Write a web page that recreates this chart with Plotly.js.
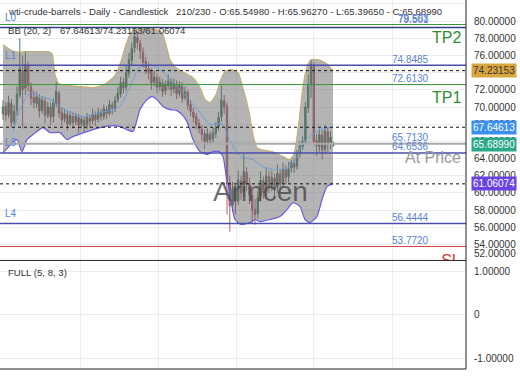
<!DOCTYPE html>
<html>
<head>
<meta charset="utf-8">
<script src="https://cdn.plot.ly/plotly-3.0.1.min.js"></script>
<style>html,body{margin:0;padding:0;background:#fff;}#chart{width:520px;height:390px;}</style>
</head>
<body>
<div id="chart"></div>
<script>
// ---- OHLC data (bar index 0..118) ----
const opens = [69.2,70.1,69.1,70.4,68.3,69.6,71.4,74.3,72.2,74.8,72.4,71.1,70.4,71.0,69.6,70.7,69.1,70.0,68.9,70.4,
71.6,69.4,68.6,69.1,68.1,68.9,68.3,68.8,68.0,68.5,67.9,68.7,68.4,69.1,68.6,69.3,68.9,69.7,69.3,70.2,
69.8,70.9,71.5,72.9,72.3,73.9,75.4,76.9,78.1,77.4,76.4,75.3,74.5,74.1,72.9,73.4,72.4,72.8,71.9,72.5,
72.9,72.1,72.7,71.6,72.4,71.1,71.7,70.3,69.4,68.9,68.1,67.4,66.9,66.1,66.8,66.3,66.9,67.7,68.9,70.7,
70.1,61.2,58.6,60.4,59.1,61.4,60.1,62.4,61.1,59.7,58.1,57.6,59.6,61.4,60.1,61.9,60.9,61.7,60.6,62.2,
61.1,62.7,61.9,62.9,63.4,63.1,64.6,65.4,66.1,69.9,72.6,74.9,66.1,65.4,66.7,65.1,67.1,65.9,65.5498];
const highs = [70.8,70.6,71.3,70.9,70.2,72.4,78.0,76.0,76.5,75.3,72.9,71.9,71.8,71.5,71.3,71.2,70.6,70.5,71.0,72.9,
71.9,69.9,69.8,69.6,69.5,69.4,69.3,69.2,69.0,68.9,69.3,69.1,69.8,69.5,69.9,69.8,70.3,70.1,70.8,70.6,
71.3,72.3,73.5,73.4,74.8,76.3,77.5,79.2,78.7,77.8,76.9,75.8,75.2,74.5,74.2,73.9,73.5,73.3,73.1,73.8,
73.4,73.3,73.1,73.0,72.9,72.4,72.0,70.8,69.9,69.3,68.6,67.9,67.3,67.5,67.2,67.6,68.2,69.4,72.5,71.4,
70.5,62.0,61.3,61.0,62.6,62.0,64.6,63.0,61.8,60.4,59.3,60.2,62.5,61.9,63.0,62.6,62.6,62.2,63.3,62.8,
63.5,63.2,63.6,64.2,64.0,65.0,66.0,66.6,70.6,73.8,75.5,75.2,66.9,67.5,67.3,67.9,67.6,67.2,65.9627];
const lows = [68.5,68.4,68.7,67.6,67.9,69.0,71.0,67.5,71.4,71.8,70.2,69.8,69.9,68.8,69.2,68.1,68.7,67.9,68.2,70.0,
68.7,67.8,68.2,67.3,67.8,67.5,67.9,67.0,67.5,67.1,67.4,67.6,68.0,67.8,68.2,68.4,68.5,68.6,69.0,69.1,
69.4,70.5,71.1,71.6,71.9,73.4,74.8,76.3,76.7,75.6,74.6,73.8,73.2,72.0,72.4,71.6,71.9,71.2,71.4,72.0,
71.3,71.6,70.9,71.2,70.5,70.8,69.7,68.9,68.2,67.4,66.9,66.1,65.1,65.6,65.7,65.9,66.4,67.2,68.3,69.2,
57.5,55.5,57.8,57.5,58.6,59.2,59.6,60.2,58.7,56.4,56.3,57.0,59.0,59.3,59.5,60.0,60.2,59.5,60.0,60.3,
60.6,61.0,61.2,62.4,62.3,62.7,64.1,65.0,65.7,69.3,71.0,65.6,64.3,64.8,63.9,64.6,64.8,65.1,65.3965];
const closes = [70.0,69.0,70.5,68.2,69.5,71.5,74.5,72.0,75.0,72.5,71.0,70.5,71.2,69.5,70.8,69.0,70.0,68.8,70.5,71.8,
69.3,68.5,69.2,68.0,69.0,68.2,68.9,67.9,68.6,67.8,68.8,68.3,69.2,68.5,69.4,68.9,69.8,69.2,70.3,69.9,
70.8,71.6,72.8,72.2,74.0,75.5,76.8,78.2,77.5,76.5,75.2,74.6,74.0,72.8,73.5,72.3,72.9,71.8,72.6,73.0,
72.0,72.8,71.5,72.5,71.0,71.8,70.2,69.5,68.8,68.0,67.5,66.8,66.0,66.9,66.2,67.0,67.6,68.8,70.8,70.0,
61.0,58.5,60.5,59.0,61.5,60.0,62.5,61.0,59.8,58.0,57.5,59.5,61.5,60.0,62.0,60.8,61.8,60.5,62.3,61.0,
62.8,61.8,62.8,63.5,63.0,64.5,65.5,66.0,70.0,72.5,75.0,66.0,65.5,66.8,65.0,67.2,65.8,66.5,65.6899];

// ---- Bollinger bands (20, 2) (bar index, price) ----
const bbUpperX = [0,3.93,7.86,12.14,16.07,17.5,18.57,20,23.93,27.86,32.14,36.07,40,42.14,43.93,45.71,47.86,50,52.14,54.64,
56.79,58.21,59.64,61.43,63.93,67.86,70.36,72.14,73.93,76.07,77.5,79.29,81.43,83.93,85.36,87.86,89.29,90.71,92.14,96.07,
100,102.86,104.29,105.71,107.14,108.57,110,112.14,114.29,116.07,117.86];
const bbUpperY = [77.26,76.44,76.44,76.44,76.44,76.2,73.8,72.72,72.49,72.37,72.26,72.6,73.65,75.3,77.26,78.65,79.0,79.1,79.1,79.0,
78.65,77.26,75.51,74.7,74.12,73.42,72.26,70.86,70.51,71.44,72.95,74.12,74.35,74.0,72.6,69.47,66.79,65.28,65.05,64.81,
64.23,63.88,65.05,68.3,72.37,74.7,75.51,75.51,75.28,74.9,74.23153];
const bbLowerX = [0,1.79,3.21,5,6.79,8.57,10.71,14.29,16.79,20.36,22.86,25,30,34.64,39.29,41.79,44.29,46.43,48.93,51.43,
53.21,55,57.14,59.64,62.14,63.93,65.71,67.86,70.36,72.86,75,77.14,78.57,79.64,80.71,81.79,82.86,85,88.21,90,
91.79,95.36,98.93,101.43,103.57,106.07,107.86,109.64,112.14,113.93,115.71,117.86];
const bbLowerY = [64.7,65.28,65.86,66.21,64.81,66.21,66.79,67.6,67.02,67.02,66.21,66.56,67.14,67.6,67.84,67.72,67.37,67.14,69.7,70.86,
71.21,70.86,70.05,69.7,69.58,69.12,68.3,66.21,64.81,64.47,64.81,64.81,64.23,62.14,60.4,58.42,56.91,56.33,56.56,56.91,
56.67,56.91,57.26,58.07,58.88,58.42,56.91,56.56,57.26,59.23,60.74,61.06074];
const bbMidX = [3.57,6.07,9.64,13.21,16.79,20.36,23.93,28.57,34.64,39.29,41.79,45.36,48.93,52.5,56.07,59.64,63.21,66.79,70.36,73.93,
76.43,78.57,80.36,82.86,85,89.29,92.86,96.43,100,102.5,105,107.14,109.64,113.21,115.71,117.86];
const bbMidY = [67.02,69.7,71.67,71.21,70.86,70.05,69.35,68.88,69.35,69.7,70.05,72.37,74.7,74.93,74.35,73.19,72.02,70.74,69.35,67.95,
68.07,67.95,66.56,65.05,64.23,63.88,63.07,62.72,62.72,63.07,64.23,65.86,66.56,67.37,67.6,67.64613];

// ---- horizontal levels ----
const levelNames  = ['TP2','L0','L1','BB upper','TP1','BB mid','At Price','L3','BB lower','L4','SL'];
const levelValues = [79.6, 79.25, 74.8485, 74.23153, 72.613, 67.64613, 65.713, 64.6536, 61.06074, 56.4444, 53.772];
const levelLabelTexts  = ['79.563','79.501','74.8485','72.6130','65.7130','64.6536','56.4444','53.7720'];
const levelLabelValues = [79.563, 79.501, 74.8485, 72.613, 65.713, 64.6536, 56.4444, 53.772];
const levelTagTexts  = ['L0','L1','L3','L4'];
const levelTagValues = [79.25, 74.8485, 64.6536, 56.4444];
const badgeTexts  = ['74.23153','67.64613','65.68990','61.06074'];
const badgeValues = [74.23153, 67.64613, 65.68990, 61.06074];
const priceTicks = [54,56,58,60,62,64,66,68,70,72,74,76,78,80,82];
const priceTickText = ['54.00000','56.00000','58.00000','60.00000','62.00000','64.00000','66.00000','68.00000',
                       '70.00000','72.00000','74.00000','76.00000','78.00000','80.00000','82.00000'];
const clampedTickText = '52.00000';
const oscTicks = [1, 0, -1];
const oscTickText = ['1.00000', '0', '-1.00000'];
const gridBars = [27.5, 55.71, 83.57, 111.07, 138.93];

const headerLeft = 'wti-crude-barrels - Daily - Candlestick';
const headerRight = '210/230 - O:65.54980 - H:65.96270 - L:65.39650 - C:65.68990';
const bbLegend = 'BB (20, 2)';
const bbLegendValues = '67.64613/74.23153/61.06074';
const oscLegend = 'FULL (5, 8, 3)';

const days = closes.map((_, i) => i);
const FONT = 'Liberation Sans, Arial, sans-serif';

const traces = [
  {type:'scatter', mode:'lines', x:bbUpperX, y:bbUpperY, line:{color:'#c2b070', width:1.2, shape:'spline', smoothing:0.6}, hoverinfo:'skip', showlegend:false},
  {type:'scatter', mode:'lines', x:bbLowerX, y:bbLowerY, fill:'tonexty', fillcolor:'rgba(105,105,105,0.5)', line:{color:'#6a5bd8', width:1.2, shape:'spline', smoothing:0.6}, hoverinfo:'skip', showlegend:false},
  {type:'scatter', mode:'lines', x:bbMidX, y:bbMidY, line:{color:'#6f9fd8', width:1, shape:'spline', smoothing:0.6}, hoverinfo:'skip', showlegend:false},
  {type:'candlestick', x:days, open:opens, high:highs, low:lows, close:closes,
   increasing:{line:{color:'#4a7f62', width:1}, fillcolor:'#4a7f62'},
   decreasing:{line:{color:'#a8606c', width:1}, fillcolor:'#a8606c'},
   whiskerwidth:0, showlegend:false, hoverinfo:'skip'},
  {type:'scatter', mode:'text', x:[160], y:[52.02], text:['SL'], cliponaxis:true,
   textfont:{family:FONT, size:16, color:'#d03a3a'}, hoverinfo:'skip', showlegend:false},
  {type:'scatter', mode:'lines', x:[], y:[], yaxis:'y2', hoverinfo:'skip', showlegend:false}
];

const levelStyle = {
  'TP2':{color:'#3a943a', width:1},
  'L0':{color:'#2f3f80', width:1.5},
  'L1':{color:'#4b4bab', width:1.5},
  'BB upper':{color:'#111', width:1, dash:'3px,3px'},
  'TP1':{color:'#3a943a', width:1},
  'BB mid':{color:'#111', width:1, dash:'3px,3px'},
  'At Price':{color:'#aaaaaa', width:2},
  'L3':{color:'#4b4bab', width:1.5},
  'BB lower':{color:'#111', width:1, dash:'3px,3px'},
  'L4':{color:'#4b4bab', width:1.5},
  'SL':{color:'#d04545', width:1}
};

const shapes = levelNames.map((n, k) => ({
  type:'line', xref:'paper', x0:0, x1:1, yref:'y', y0:levelValues[k], y1:levelValues[k],
  line:levelStyle[n], layer:'above'
}));
const splitY = 108/369;
shapes.push({type:'line', xref:'paper', yref:'paper', x0:0, x1:1, y0:splitY+0.0015, y1:splitY+0.0015, line:{color:'#222', width:1}});
shapes.push({type:'line', xref:'paper', yref:'paper', x0:0, x1:1, y0:0, y1:0, line:{color:'#222', width:1}});
shapes.push({type:'line', xref:'paper', yref:'paper', x0:1, x1:1, y0:0, y1:1, line:{color:'#222', width:1}});

const annotations = [];
const pyToPaper = py => (369 - py) / 369;
annotations.push({xref:'paper', yref:'paper', x:6/466, y:pyToPaper(12), xanchor:'left', yanchor:'middle', showarrow:false, text:headerLeft, font:{family:FONT, size:9.6, color:'#333'}});
annotations.push({xref:'paper', yref:'paper', x:174/466, y:pyToPaper(12), xanchor:'left', yanchor:'middle', showarrow:false, text:headerRight, font:{family:FONT, size:9.6, color:'#333'}});
annotations.push({xref:'paper', yref:'paper', x:6/466, y:pyToPaper(30), xanchor:'left', yanchor:'middle', showarrow:false, text:bbLegend, font:{family:FONT, size:9.6, color:'#333'}});
annotations.push({xref:'paper', yref:'paper', x:58/466, y:pyToPaper(30), xanchor:'left', yanchor:'middle', showarrow:false, text:bbLegendValues, font:{family:FONT, size:9.6, color:'#333'}});
annotations.push({xref:'paper', yref:'paper', x:6/466, y:pyToPaper(273), xanchor:'left', yanchor:'middle', showarrow:false, text:oscLegend, font:{family:FONT, size:9.6, color:'#333'}});

levelLabelTexts.forEach((t, k) => annotations.push({
  xref:'paper', yref:'y', x:431/466, y:levelLabelValues[k], yshift:6, xanchor:'right', yanchor:'middle', showarrow:false,
  text:t, font:{family:FONT, size:10, color:'#5b7fd6'}
}));
levelTagTexts.forEach((t, k) => annotations.push({
  xref:'paper', yref:'y', x:3/466, y:levelTagValues[k], yshift:10, xanchor:'left', yanchor:'middle', showarrow:false,
  text:t, font:{family:FONT, size:10, color:'#5b7fd6'}
}));
const badgeBg = ['#d9a63e','#3b8ff0','#2aa88a','#6a42e4'];
const badgeFg = ['#333','#fff','#fff','#fff'];
badgeTexts.forEach((t, k) => annotations.push({
  xref:'paper', yref:'y', x:1, xshift:5, y:badgeValues[k], xanchor:'left', yanchor:'middle', showarrow:false,
  text:t, bgcolor:badgeBg[k], borderpad:1, font:{family:FONT, size:10, color:badgeFg[k]}
}));
annotations.push({xref:'paper', yref:'paper', x:1, xshift:6, y:pyToPaper(253), xanchor:'left', yanchor:'middle', showarrow:false, text:clampedTickText, font:{family:FONT, size:10, color:'#333'}});
annotations.push({xref:'paper', yref:'y', x:463/466, y:78.07, xanchor:'right', yanchor:'middle', showarrow:false, text:'TP2', font:{family:FONT, size:16, color:'#2f8f2f'}});
annotations.push({xref:'paper', yref:'y', x:463/466, y:71.09, xanchor:'right', yanchor:'middle', showarrow:false, text:'TP1', font:{family:FONT, size:16, color:'#2f8f2f'}});
annotations.push({xref:'paper', yref:'y', x:463/466, y:64.12, xanchor:'right', yanchor:'middle', showarrow:false, text:'At Price', font:{family:FONT, size:16, color:'#999'}});
annotations.push({xref:'x', yref:'y', x:91.8, y:60.16, xanchor:'center', yanchor:'middle', showarrow:false, text:'Arincen', font:{family:FONT, size:28, color:'rgba(70,70,70,0.8)'}});

const layout = {
  width:520, height:390,
  margin:{l:0, r:54, t:0, b:21, pad:0},
  paper_bgcolor:'#fff', plot_bgcolor:'#fff',
  showlegend:false,
  font:{family:FONT, size:10, color:'#333'},
  xaxis:{range:[-1.071, 165.36], anchor:'y2', showticklabels:false, ticks:'', tickvals:gridBars,
         showgrid:true, gridcolor:'#ececec', zeroline:false, showline:false, rangeslider:{visible:false}, fixedrange:true},
  yaxis:{domain:[(369-260)/369, 1], range:[52.2, 82.45], side:'right', tickvals:priceTicks, ticktext:priceTickText,
         ticks:'', ticklabelstandoff:7, showgrid:true, gridcolor:'#ececec', zeroline:false, showline:false,
         tickfont:{family:FONT, size:10, color:'#333'}, fixedrange:true},
  yaxis2:{domain:[0, splitY], range:[-1.253, 1.23], side:'right', tickvals:oscTicks, ticktext:oscTickText,
          ticks:'', ticklabelstandoff:7, showgrid:true, gridcolor:'#ececec', zeroline:false, showline:false,
          tickfont:{family:FONT, size:10, color:'#333'}, fixedrange:true},
  shapes:shapes,
  annotations:annotations
};

Plotly.newPlot('chart', traces, layout, {displayModeBar:false, staticPlot:true});
</script>
</body>
</html>
